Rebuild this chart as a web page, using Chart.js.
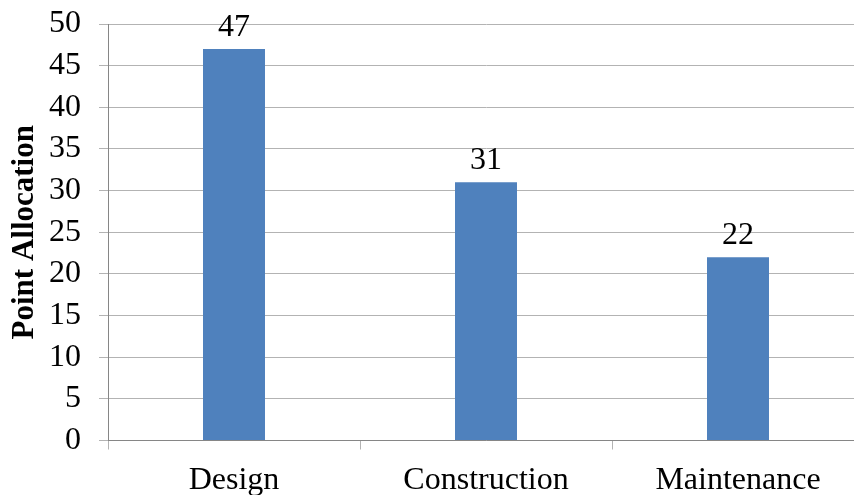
<!DOCTYPE html>
<html>
<head>
<meta charset="utf-8">
<script src="https://cdn.jsdelivr.net/npm/chart.js@4"></script>
<style>
  html, body { margin: 0; padding: 0; background: #fff; overflow: hidden; }
  #pointChart { display: block; }
</style>
</head>
<body>
<canvas id="pointChart" width="866" height="495" style="width:866px;height:495px"></canvas>
<script>
const phases = ["Design", "Construction", "Maintenance"];
const points = [47, 31, 22];
const yTicks = [0, 5, 10, 15, 20, 25, 30, 35, 40, 45, 50];

const serif = "'Liberation Serif', 'Times New Roman', serif";

// writes the value above each bar
const barValues = {
  id: "barValues",
  afterDatasetsDraw(chart) {
    const ctx = chart.ctx;
    const meta = chart.getDatasetMeta(0);
    ctx.save();
    ctx.font = "32px " + serif;
    ctx.fillStyle = "#000";
    ctx.textAlign = "center";
    ctx.textBaseline = "alphabetic";
    meta.data.forEach((bar, i) => {
      ctx.fillText(String(points[i]), bar.x, bar.y - 13);
    });
    ctx.restore();
  }
};

new Chart(document.getElementById("pointChart").getContext("2d"), {
  type: "bar",
  data: {
    labels: phases,
    datasets: [{
      data: points,
      backgroundColor: "#4F81BD",
      borderWidth: 0,
      barPercentage: 0.246,
      categoryPercentage: 1
    }]
  },
  options: {
    responsive: false,
    animation: false,
    layout: { padding: { top: 24, right: 2, left: 0, bottom: 0 } },
    plugins: {
      legend: { display: false },
      tooltip: { enabled: false }
    },
    scales: {
      x: {
        afterFit: s => { s.height = 54.5; },
        grid: {
          offset: true,
          drawOnChartArea: false,
          drawTicks: true,
          tickLength: 9,
          color: "#b3b3b3"
        },
        border: { color: "#868686" },
        ticks: {
          color: "#000",
          padding: 12,
          font: { family: serif, size: 32 }
        }
      },
      y: {
        min: 0,
        max: 50,
        afterFit: s => {
          s.width = 108;
          s.paddingTop = 0;
          s.paddingBottom = 0;
        },
        afterBuildTicks: s => { s.ticks = yTicks.map(v => ({ value: v })); },
        grid: {
          color: "#b3b3b3",
          tickLength: 9
        },
        border: { color: "#868686" },
        ticks: {
          color: "#000",
          padding: 18,
          autoSkip: false,
          font: { family: serif, size: 32 }
        },
        title: {
          display: true,
          text: "Point Allocation",
          color: "#000",
          padding: { top: 6, bottom: 0 },
          font: { family: serif, size: 31, weight: "bold" }
        }
      }
    }
  },
  plugins: [barValues]
});
</script>
</body>
</html>
